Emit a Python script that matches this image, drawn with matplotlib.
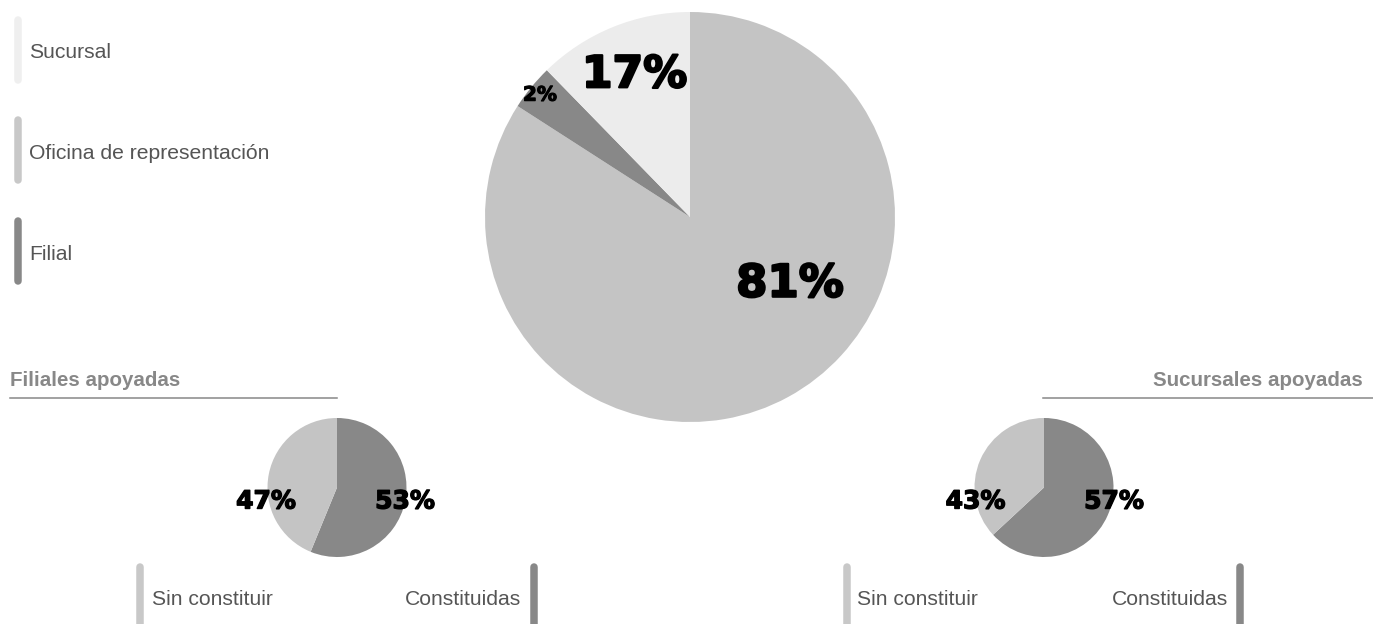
import matplotlib
matplotlib.use("Agg")
import matplotlib.pyplot as plt
from matplotlib.lines import Line2D
import matplotlib.patheffects as pe

W, H = 1373, 624
DPI = 100

# ---- data ----
# labels printed on the chart
main_names = ["Oficina de representación", "Filial", "Sucursal"]
main_pct_labels = [81, 2, 17]
# wedge sizes as drawn in the picture (angles)
main_shares = [84.1, 3.6, 12.3]
main_colors = ["#c4c4c4", "#888888", "#ececec"]

sub_names = ["Constituidas", "Sin constituir"]
fil_pct_labels = [53, 47]
fil_shares = [56.2, 43.8]
suc_pct_labels = [57, 43]
suc_shares = [63.1, 36.9]
sub_colors = ["#888888", "#c4c4c4"]

legend_items = ["Sucursal", "Oficina de representación", "Filial"]
legend_colors = ["#efefef", "#c8c8c8", "#888888"]

plt.rcParams['font.family'] = ['Liberation Sans', 'DejaVu Sans']
NUMFONT = ['DejaVu Sans']

fig = plt.figure(figsize=(W / DPI, H / DPI), dpi=DPI)
fig.patch.set_facecolor("white")


def fx(x):
    return x / W


def fy(y):
    return 1 - y / H


def pt(px):
    return px * 72 / DPI


def pie_axes(cx, cy, r):
    ax = fig.add_axes([fx(cx - r), fy(cy + r), 2 * r / W, 2 * r / H])
    ax.axis("off")
    return ax


def heavy(w):
    return [pe.withStroke(linewidth=w, foreground="black")]


# ---- main pie ----
MCX, MCY, MR = 690, 217, 205
ax = pie_axes(MCX, MCY, MR)
ax.pie(main_shares, colors=main_colors, startangle=90, counterclock=False,
       radius=1, wedgeprops=dict(linewidth=0))
ax.set_xlim(-1, 1)
ax.set_ylim(-1, 1)
ax.set_aspect("auto")
# label anchor points (pixels, baseline)
main_lab_pos = [(790, 296.7), (540, 100.7), (634.5, 87.3)]
main_lab_size = [45, 20, 44]
for v, (x, y), s in zip(main_pct_labels, main_lab_pos, main_lab_size):
    ax.text((x - MCX) / MR, (MCY - y) / MR, f"{v}%", ha="center", va="baseline",
            fontsize=pt(s), fontweight="bold", color="black", family=NUMFONT,
            path_effects=heavy(1.6 if s > 30 else 0.8))

# ---- sub pies ----
SR, SCY = 69.5, 487.5
for cx, shares, labs, lx in [(337, fil_shares, fil_pct_labels, [405, 266]),
                             (1044, suc_shares, suc_pct_labels, [1114, 975.5])]:
    a = pie_axes(cx, SCY, SR)
    a.pie(shares, colors=sub_colors, startangle=90, counterclock=False, radius=1,
          wedgeprops=dict(linewidth=0))
    a.set_xlim(-1, 1)
    a.set_ylim(-1, 1)
    a.set_aspect("auto")
    for v, x in zip(labs, lx):
        a.text((x - cx) / SR, (SCY - 508.5) / SR, f"{v}%", ha="center",
               va="baseline", fontsize=pt(25), fontweight="bold", color="black",
               clip_on=False, family=NUMFONT, path_effects=heavy(1.0))

# ---- overlay for legends / titles ----
overlay = fig.add_axes([0, 0, 1, 1])
overlay.set_xlim(0, W)
overlay.set_ylim(H, 0)
overlay.axis("off")
BARW = 7.5


def vbar(x, y0, y1, col):
    overlay.add_line(Line2D([x, x], [y0 + BARW / 2, y1 - BARW / 2], color=col,
                            lw=pt(BARW), solid_capstyle="round"))


FS = 21.2
FT = 20.5
bar_tops = [16, 116.7, 217.7]
baselines = [58.3, 159.3, 260]
for lab, col, t, b in zip(legend_items, legend_colors, bar_tops, baselines):
    vbar(18.3, t, t + 67.5, col)
    overlay.text(29.3, b, lab, ha="left", va="baseline", fontsize=pt(FS),
                 color="#555555")

# ---- section titles ----
overlay.text(10.5, 386, "Filiales apoyadas", ha="left", va="baseline",
             fontsize=pt(FT), fontweight="bold", color="#888888")
overlay.plot([10, 337], [398.3, 398.3], color="#888888", lw=1.1)
overlay.text(1363, 386, "Sucursales apoyadas", ha="right", va="baseline",
             fontsize=pt(FT), fontweight="bold", color="#888888")
overlay.plot([1043, 1373], [398.3, 398.3], color="#888888", lw=1.1)

# ---- bottom legends ----
for xl, tl, xr, tr in [(140.4, 151.8, 533.5, 521.4),
                       (846.5, 857, 1239.5, 1228.5)]:
    vbar(xl, 563.3, 650, "#c8c8c8")
    overlay.text(tl, 605, sub_names[1], ha="left", va="baseline",
                 fontsize=pt(FS), color="#555555")
    vbar(xr, 563.3, 650, "#888888")
    overlay.text(tr, 605, sub_names[0], ha="right", va="baseline",
                 fontsize=pt(FS), color="#555555")

fig.savefig("out.png", dpi=DPI, facecolor="white")
